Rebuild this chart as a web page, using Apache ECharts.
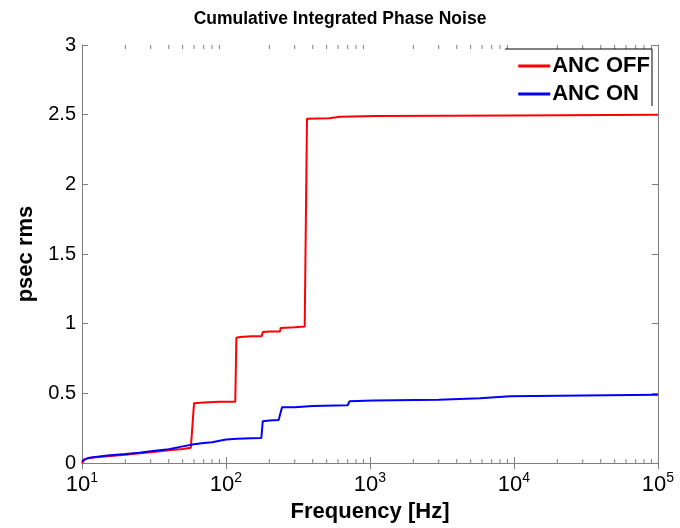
<!DOCTYPE html>
<html>
<head>
<meta charset="utf-8">
<script src="https://cdn.jsdelivr.net/npm/echarts@6/dist/echarts.min.js"></script>
<style>
  html, body { margin: 0; padding: 0; background: #fff; }
  #main { width: 680px; height: 528px; }
</style>
</head>
<body>
<div id="main"></div>
<script>
// ANC OFF (red) - cumulative phase noise, psec rms
var offFreq = [10, 10.4, 11, 12, 15, 20, 25, 30, 40, 50, 57, 58.5, 60, 70, 90, 116, 118, 125, 150, 177, 180, 200, 237, 240, 300, 352, 365, 520, 620, 1100, 10000, 100000];
var offVals = [0.0, 0.025, 0.035, 0.04, 0.05, 0.06, 0.07, 0.078, 0.092, 0.102, 0.11, 0.115, 0.43, 0.435, 0.44, 0.44, 0.90, 0.905, 0.91, 0.91, 0.94, 0.945, 0.945, 0.97, 0.975, 0.98, 2.47, 2.475, 2.485, 2.49, 2.495, 2.5];
// ANC ON (blue)
var onFreq = [10, 10.3, 11, 12, 15, 20, 25, 30, 40, 50, 60, 70, 80, 100, 120, 150, 176, 180, 200, 232, 245, 300, 400, 700, 720, 1050, 3000, 5800, 9400, 30000, 100000];
var onVals = [0.01, 0.025, 0.036, 0.042, 0.055, 0.065, 0.075, 0.085, 0.10, 0.12, 0.135, 0.145, 0.15, 0.17, 0.175, 0.178, 0.18, 0.30, 0.305, 0.31, 0.40, 0.40, 0.41, 0.415, 0.443, 0.45, 0.455, 0.466, 0.48, 0.485, 0.49];
var seriesNames = ['ANC OFF', 'ANC ON'];
var xTickExps = [1, 2, 3, 4, 5];
var yTicks = [0, 0.5, 1, 1.5, 2, 2.5, 3];

function pairs(f, v) {
    var out = [];
    for (var i = 0; i < f.length; i++) out.push([f[i], v[i]]);
    return out;
}

// minor ticks of the log axis: 2..9 in each decade
var minorTicks = [];
for (var k = xTickExps[0]; k < xTickExps[xTickExps.length - 1]; k++) {
    for (var m = 2; m <= 9; m++) minorTicks.push([m * Math.pow(10, k)]);
}

var axisColor = '#7f7f7f';
var fontFam = 'Liberation Sans, Arial, sans-serif';

var myChart = echarts.init(document.getElementById('main'));
var option = {
    animation: false,
    title: {
        text: 'Cumulative Integrated Phase Noise',
        left: 'center',
        top: 5,
        textStyle: { fontFamily: fontFam, fontSize: 17.5, fontWeight: 'bold', color: '#000' }
    },
    legend: {
        data: seriesNames,
        orient: 'vertical',
        right: 25,
        top: 50,
        itemWidth: 32,
        itemHeight: 3,
        itemGap: 6,
        icon: 'rect',
        textStyle: { fontFamily: fontFam, fontSize: 22, fontWeight: 'bold', color: '#000', padding: [0, 0, 0, -3] }
    },
    grid: { left: 82, right: 22, top: 45, bottom: 63 },
    xAxis: [{
        type: 'log',
        logBase: 10,
        min: 10,
        max: 100000,
        name: 'Frequency [Hz]',
        nameLocation: 'middle',
        nameGap: 37,
        nameTextStyle: { fontFamily: fontFam, fontSize: 22, fontWeight: 'bold', color: '#000' },
        axisLine: { lineStyle: { color: axisColor, width: 1 } },
        axisTick: { inside: true, length: 6, lineStyle: { color: axisColor } },
        splitLine: { show: false },
        axisLabel: {
            margin: 8,
            formatter: function (v) {
                return '{b|10}{s|' + Math.round(Math.log10(v)) + '}';
            },
            rich: {
                b: { fontFamily: fontFam, fontSize: 22, color: '#000' },
                s: { fontFamily: fontFam, fontSize: 14, color: '#000', padding: [0, 0, 14, 0] }
            }
        }
    }, {
        type: 'log',
        logBase: 10,
        min: 10,
        max: 100000,
        position: 'top',
        axisLine: { lineStyle: { color: axisColor, width: 1 } },
        axisTick: { inside: true, length: 6, lineStyle: { color: axisColor } },
        axisLabel: { show: false },
        splitLine: { show: false }
    }],
    yAxis: [{
        type: 'value',
        min: 0,
        max: 3,
        interval: 0.5,
        name: 'psec rms',
        nameLocation: 'middle',
        nameGap: 40,
        nameTextStyle: { fontFamily: fontFam, fontSize: 22, fontWeight: 'bold', color: '#000' },
        axisLine: { show: true, lineStyle: { color: axisColor, width: 1 } },
        axisTick: { show: true, inside: true, length: 6, lineStyle: { color: axisColor } },
        splitLine: { show: false },
        axisLabel: {
            margin: 6,
            fontFamily: fontFam, fontSize: 20, color: '#000',
            formatter: function (v) { return yTicks.indexOf(v) >= 0 ? String(v) : ''; }
        }
    }, {
        type: 'value',
        min: 0,
        max: 3,
        interval: 0.5,
        position: 'right',
        axisLine: { show: true, lineStyle: { color: axisColor, width: 1 } },
        axisTick: { show: true, inside: true, length: 6, lineStyle: { color: axisColor } },
        axisLabel: { show: false },
        splitLine: { show: false }
    }],
    graphic: [{
        type: 'polyline',
        shape: { points: [[505, 49], [652, 49], [652, 106]] },
        style: { stroke: '#000', lineWidth: 1, fill: null },
        z: 10
    }],
    series: [{
        name: seriesNames[0],
        type: 'line',
        data: pairs(offFreq, offVals),
        showSymbol: false,
        lineStyle: { color: '#ff0000', width: 2 },
        itemStyle: { color: '#ff0000' },
        z: 3
    }, {
        name: seriesNames[1],
        type: 'line',
        data: pairs(onFreq, onVals),
        showSymbol: false,
        lineStyle: { color: '#0000ff', width: 2 },
        itemStyle: { color: '#0000ff' },
        z: 4
    }, {
        type: 'custom',
        silent: true,
        clip: false,
        data: minorTicks,
        renderItem: function (params, api) {
            var b = api.coord([api.value(0), 0]);
            var t = api.coord([api.value(0), 3]);
            var st = { stroke: axisColor, lineWidth: 1 };
            return {
                type: 'group',
                children: [
                    { type: 'line', shape: { x1: b[0], y1: b[1], x2: b[0], y2: b[1] - 4 }, style: st },
                    { type: 'line', shape: { x1: t[0], y1: t[1], x2: t[0], y2: t[1] + 4 }, style: st }
                ]
            };
        },
        z: 1
    }]
};
myChart.setOption(option);
</script>
</body>
</html>
